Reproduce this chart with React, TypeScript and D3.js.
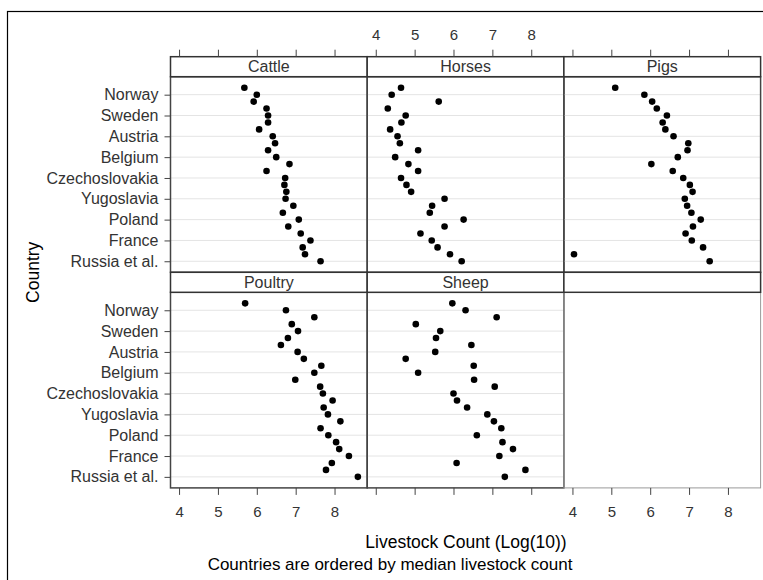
import React, { useEffect, useRef } from 'react';
import * as d3 from 'd3';

// 26 countries, top to bottom (ordered by median livestock count)
const countries = [
  'Albania', 'Norway', 'Finland', 'Switzerland', 'Sweden', 'Greece', 'Denmark',
  'Austria', 'Portugal', 'Bulgaria', 'Belgium', 'Ireland', 'Hungary',
  'Czechoslovakia', 'Netherlands', 'Romania', 'Yugoslavia', 'East Germany',
  'Italy', 'Poland', 'West Germany', 'Spain', 'France', 'United Kingdom',
  'Turkey', 'Russia et al.'
];

const tickCountries = [
  'Norway', 'Sweden', 'Austria', 'Belgium', 'Czechoslovakia',
  'Yugoslavia', 'Poland', 'France', 'Russia et al.'
];

// log10 counts, same order as countries
const cattle = [5.68, 6.0, 5.92, 6.25, 6.29, 6.29, 6.06, 6.41, 6.47, 6.29, 6.5, 6.84, 6.25,
  6.73, 6.71, 6.76, 6.74, 6.94, 6.67, 7.08, 6.81, 7.13, 7.38, 7.18, 7.24, 7.64];
const horses = [4.65, 4.41, 5.62, 4.31, 4.77, 4.66, 4.37, 4.56, 4.62, 5.09, 4.5, 4.84, 5.09,
  4.65, 4.79, 4.91, 5.77, 5.45, 5.39, 6.26, 5.77, 5.15, 5.44, 5.59, 5.91, 6.21];
const pigs = [5.1, 5.85, 6.05, 6.17, 6.43, 6.32, 6.39, 6.6, 6.98, 6.96, 6.71, 6.03, 6.58,
  6.85, 7.02, 7.09, 6.89, 6.95, 7.06, 7.3, 7.1, 6.91, 7.07, 7.36, 4.04, 7.53];
const poultry = [5.7, 6.75, 7.48, 6.9, 7.06, 6.8, 6.62, 7.05, 7.21, 7.66, 7.48, 6.99, 7.63,
  7.7, 7.95, 7.72, 7.83, 8.15, 7.64, 7.84, 8.04, 8.12, 8.37, 7.93, 7.78, 8.6];
const sheep = [5.97, 6.31, 7.11, 5.03, 5.66, 5.55, 6.46, 5.53, 4.77, 6.52, 5.09, 6.53, 7.06,
  6.0, 6.09, 6.35, 6.87, 7.04, 7.23, 6.6, 7.26, 7.53, 7.18, 6.08, 7.85, 7.32];

const panelNames = ['Cattle', 'Horses', 'Pigs', 'Poultry', 'Sheep'];
const panelValues = [cattle, horses, pigs, poultry, sheep];

const xTicks = [4, 5, 6, 7, 8];

const App = () => {
  const svgRef = useRef(null);

  useEffect(() => {
    document.body.style.margin = '0';
    const svg = d3.select(svgRef.current);
    svg.selectAll('*').remove();

    const font = 'Arial, "Liberation Sans", sans-serif';
    const plotLeft = 170.5;
    const cellW = 196.7;
    const top0 = 56.7;
    const stripH = 20;
    const bodyH = 195.6;
    const rowH = stripH + bodyH;
    const nCols = 3;
    const nRows = 2;

    // outer frame (cut off at right/bottom like the original)
    svg.append('rect')
      .attr('x', 7.5).attr('y', 11.5)
      .attr('width', 800).attr('height', 620)
      .attr('fill', 'none').attr('stroke', '#000').attr('stroke-width', 1.2);

    const xFor = (c) => d3.scaleLinear()
      .domain([3.78, 8.84])
      .range([plotLeft + c * cellW, plotLeft + (c + 1) * cellW]);

    const yFor = (r) => d3.scalePoint()
      .domain(countries)
      .range([top0 + r * rowH + stripH, top0 + r * rowH + stripH + bodyH])
      .padding(1.59);

    for (let r = 0; r < nRows; r++) {
      for (let c = 0; c < nCols; c++) {
        const i = r * nCols + c;
        const x = xFor(c);
        const y = yFor(r);
        const stripTop = top0 + r * rowH;
        const bodyTop = stripTop + stripH;
        const g = svg.append('g');

        if (i < panelNames.length) {
          // gridlines at labelled rows
          g.selectAll('.grid')
            .data(tickCountries)
            .enter().append('line')
            .attr('x1', x.range()[0]).attr('x2', x.range()[1])
            .attr('y1', d => y(d)).attr('y2', d => y(d))
            .attr('stroke', '#e4e4e4').attr('stroke-width', 1);

          const pts = countries.map((name, k) => ({ name, v: panelValues[i][k] }));
          g.selectAll('.pt')
            .data(pts)
            .enter().append('circle')
            .attr('cx', d => x(d.v))
            .attr('cy', d => y(d.name))
            .attr('r', 3.3)
            .attr('fill', '#000');

          g.append('rect')
            .attr('x', x.range()[0]).attr('y', bodyTop)
            .attr('width', cellW).attr('height', bodyH)
            .attr('fill', 'none').attr('stroke', '#444').attr('stroke-width', 1.5);
        } else {
          g.append('rect')
            .attr('x', x.range()[0]).attr('y', bodyTop)
            .attr('width', cellW).attr('height', bodyH)
            .attr('fill', 'none').attr('stroke', '#999').attr('stroke-width', 1);
        }

        // strip
        g.append('rect')
          .attr('x', x.range()[0]).attr('y', stripTop)
          .attr('width', cellW).attr('height', stripH)
          .attr('fill', '#fff').attr('stroke', '#333').attr('stroke-width', 1.5);
        if (i < panelNames.length) {
          g.append('text')
            .attr('x', x.range()[0] + cellW / 2)
            .attr('y', stripTop + 15.5)
            .attr('text-anchor', 'middle')
            .attr('font-family', font)
            .attr('font-size', 16)
            .attr('fill', '#333')
            .text(panelNames[i]);
        }
      }

      // left axis for each row
      const yAx = svg.append('g')
        .attr('transform', `translate(${plotLeft},0)`)
        .call(d3.axisLeft(yFor(r)).tickValues(tickCountries).tickSize(6).tickPadding(6));
      yAx.select('.domain').remove();
      yAx.selectAll('line').attr('stroke', '#444');
      yAx.selectAll('text')
        .attr('font-family', font).attr('font-size', 16).attr('fill', '#333');
    }

    // top and bottom axes
    const bottomY = top0 + nRows * rowH;
    for (let c = 0; c < nCols; c++) {
      const x = xFor(c);
      const topAx = svg.append('g')
        .attr('transform', `translate(0,${top0})`)
        .call(d3.axisTop(x).tickValues(xTicks).tickSize(7).tickPadding(10)
          .tickFormat(c === 1 ? d3.format('d') : () => ''));
      const botAx = svg.append('g')
        .attr('transform', `translate(0,${bottomY})`)
        .call(d3.axisBottom(x).tickValues(xTicks).tickSize(7).tickPadding(11)
          .tickFormat(c !== 1 ? d3.format('d') : () => ''));
      [topAx, botAx].forEach(ax => {
        ax.select('.domain').remove();
        ax.selectAll('line').attr('stroke', '#444');
        ax.selectAll('text')
          .attr('font-family', font).attr('font-size', 15).attr('fill', '#333');
      });
    }

    // titles
    svg.append('text')
      .attr('x', 466).attr('y', 548)
      .attr('text-anchor', 'middle')
      .attr('font-family', font).attr('font-size', 17.5).attr('fill', '#000')
      .text('Livestock Count (Log(10))');

    svg.append('text')
      .attr('x', 390).attr('y', 570)
      .attr('text-anchor', 'middle')
      .attr('font-family', font).attr('font-size', 17).attr('fill', '#000')
      .text('Countries are ordered by median livestock count');

    svg.append('text')
      .attr('transform', `translate(39,${top0 + rowH})rotate(-90)`)
      .attr('text-anchor', 'middle')
      .attr('font-family', font).attr('font-size', 17.5).attr('fill', '#000')
      .text('Country');
  }, []);

  return <svg ref={svgRef} width={763} height={580} style={{ display: 'block' }}></svg>;
};

export default App;
